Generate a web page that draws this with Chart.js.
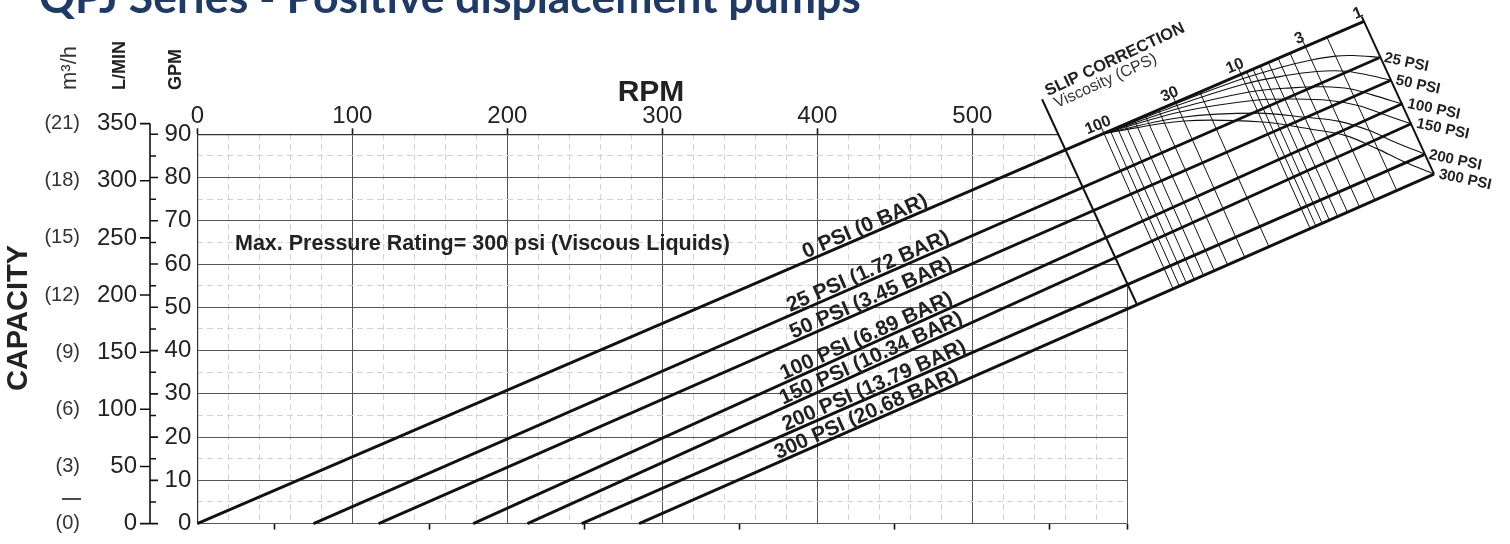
<!DOCTYPE html>
<html>
<head>
<meta charset="utf-8">
<script src="https://cdn.jsdelivr.net/npm/chart.js@4.4.0/dist/chart.umd.min.js"></script>
<style>
  html, body { margin: 0; padding: 0; background: #fff; }
  #wrap { width: 1510px; height: 544px; }
</style>
</head>
<body>
<div id="wrap"><canvas id="pump" width="1510" height="544"></canvas></div>
<script>
// axis values
const rpmLabels = [0, 100, 200, 300, 400, 500];
const rpmUnderTicks = [50, 150, 250, 350, 450, 550, 600];
const lminTicks = [0, 50, 100, 150, 200, 250, 300, 350];
const m3hTicks = [0, 3, 6, 9, 12, 15, 18, 21];
const LPM_PER_GPM = 3.785;

// pressure lines: zero flow at lineStartRpm, run up to the right edge of the slip chart
const psiLabels = ['0 PSI (0 BAR)', '25 PSI (1.72 BAR)', '50 PSI (3.45 BAR)', '100 PSI (6.89 BAR)',
                   '150 PSI (10.34 BAR)', '200 PSI (13.79 BAR)', '300 PSI (20.68 BAR)'];
const psiShort = ['', '25 PSI', '50 PSI', '100 PSI', '150 PSI', '200 PSI', '300 PSI'];
const lineStartRpm = [0, 75, 117, 178, 213, 248, 285];
const lineEndRpm = [752.7, 762.6, 770.1, 777.7, 783.5, 791.5, 797.9];
const lineEndGpm = [116.1, 107.7, 102.5, 97.1, 92.5, 85.3, 80.8];

// slip correction frame, in rpm / gpm units
const frameLeft = [[545.0, 98.1], [606.3, 50.6]];
const visTop = { 100: [585.0, 90.2], 10: [673.4, 103.9], 1: [752.7, 116.1] };
const visBottom = { 100: [629.5, 54.3], 10: [718.0, 68.2], 1: [797.9, 80.8] };
const visLines = [100, 90, 80, 70, 60, 50, 40, 30, 20, 10, 9, 8, 7, 6, 5, 4, 3, 2];
const visLabeled = [100, 30, 10, 3, 1];

// slip curves: share of full slip at each viscosity, one row per pressure (25..300 psi)
const curveVis = [100, 30, 10, 5, 3, 2, 1.5, 1];
const slipShare = [
  [0, 0.03, 0.12, 0.24, 0.37, 0.52, 0.69, 1],
  [0, 0.05, 0.16, 0.29, 0.42, 0.57, 0.73, 1],
  [0, 0.07, 0.21, 0.35, 0.48, 0.62, 0.77, 1],
  [0, 0.09, 0.25, 0.39, 0.52, 0.66, 0.80, 1],
  [0, 0.11, 0.29, 0.44, 0.56, 0.70, 0.83, 1],
  [0, 0.12, 0.31, 0.46, 0.58, 0.73, 0.85, 1]
];

Chart.defaults.font.family = '"Liberation Sans", Arial, sans-serif';
Chart.defaults.color = '#222';

// position on a viscosity line (log scale, one decade per segment)
function visPoint(v, ends) {
  const lv = Math.log10(v);
  const a = lv >= 1 ? ends[100] : ends[10];
  const b = lv >= 1 ? ends[10] : ends[1];
  const f = lv >= 1 ? 2 - lv : 1 - lv;
  return [a[0] + (b[0] - a[0]) * f, a[1] + (b[1] - a[1]) * f];
}

function intersect(p1, p2, p3, p4) {
  const d = (p1[0] - p2[0]) * (p3[1] - p4[1]) - (p1[1] - p2[1]) * (p3[0] - p4[0]);
  const t = ((p1[0] - p3[0]) * (p3[1] - p4[1]) - (p1[1] - p3[1]) * (p3[0] - p4[0])) / d;
  return [p1[0] + t * (p2[0] - p1[0]), p1[1] + t * (p2[1] - p1[1])];
}

const pt = p => ({ x: p[0], y: p[1] });

function seg(points, width, extra) {
  return Object.assign({
    data: points.map(pt), showLine: true, borderColor: '#111', borderWidth: width,
    pointRadius: 0, clip: false, tension: 0, xAxisID: 'x', yAxisID: 'y'
  }, extra || {});
}

const datasets = [];

// pressure lines
lineStartRpm.forEach((s, i) => {
  datasets.push(seg([[s, 0], [lineEndRpm[i], lineEndGpm[i]]], 2.8));
});

// frame edges
datasets.push(seg(frameLeft, 2));
{
  const t = visTop[1], b = visBottom[1];
  datasets.push(seg([[t[0] + (t[0] - b[0]) * 0.03, t[1] + (t[1] - b[1]) * 0.03], b], 2));
}

// viscosity lines
visLines.forEach(v => {
  let t = visPoint(v, visTop);
  const b = visPoint(v, visBottom);
  if (visLabeled.includes(v)) t = [t[0] + (t[0] - b[0]) * 0.05, t[1] + (t[1] - b[1]) * 0.05];
  datasets.push(seg([t, b], 1));
});

// slip curves
slipShare.forEach((row, k) => {
  const i = k + 1;
  const a = [lineStartRpm[i], 0], e = [lineEndRpm[i], lineEndGpm[i]];
  const pts = curveVis.map((v, j) => {
    const t = visPoint(v, visTop);
    const c = intersect(a, e, t, visPoint(v, visBottom));
    return [t[0] + (c[0] - t[0]) * row[j], t[1] + (c[1] - t[1]) * row[j]];
  });
  datasets.push(seg(pts, 1.1, { tension: 0.35 }));
});

const px = (chart, p) => [chart.scales.x.getPixelForValue(p[0]), chart.scales.y.getPixelForValue(p[1])];

// blank out the grid behind the slip chart
const gridMask = {
  id: 'gridMask',
  beforeDatasetsDraw(chart) {
    const a = frameLeft[0], b = frameLeft[1];
    const up = [a[0] + (a[0] - b[0]) * 0.4, a[1] + (a[1] - b[1]) * 0.4];
    const down = [b[0] + (b[0] - a[0]) * 0.06, b[1] + (b[1] - a[1]) * 0.06];
    const poly = [up, down, [720, down[1]], [720, up[1]]].map(p => px(chart, p));
    const ctx = chart.ctx;
    ctx.save();
    ctx.fillStyle = '#fff';
    ctx.beginPath();
    poly.forEach((p, i) => i ? ctx.lineTo(p[0], p[1]) : ctx.moveTo(p[0], p[1]));
    ctx.closePath();
    ctx.fill();
    ctx.restore();
  }
};

function rotText(ctx, text, x, y, ang, font, align, base, color) {
  ctx.save();
  ctx.translate(x, y);
  ctx.rotate(ang);
  ctx.font = font;
  ctx.textAlign = align;
  ctx.textBaseline = base;
  ctx.fillStyle = color || '#222';
  ctx.fillText(text, 0, 0);
  ctx.restore();
}

const annotations = {
  id: 'annotations',
  afterDatasetsDraw(chart) {
    const ctx = chart.ctx;
    const ys = chart.scales.y;

    // title
    const title = 'QPJ Series - Positive displacement pumps';
    ctx.save();
    ctx.font = 'bold 100px Lato';
    const size = 100 * 821 / ctx.measureText(title).width;
    ctx.font = 'bold ' + size.toFixed(1) + 'px Lato';
    ctx.fillStyle = '#1e3a69';
    ctx.textBaseline = 'alphabetic';
    ctx.fillText(title, 39, 13);
    ctx.restore();

    // RPM title
    rotText(ctx, 'RPM', 651, 101, 0, 'bold 30px "Liberation Sans", Arial', 'center', 'alphabetic');

    // left axis: L/MIN ticks on the left, GPM ticks on the right
    const axX = 150;
    ctx.save();
    ctx.strokeStyle = '#111';
    ctx.lineWidth = 1.6;
    ctx.beginPath();
    ctx.moveTo(axX, ys.getPixelForValue(lminTicks[lminTicks.length - 1] / LPM_PER_GPM));
    ctx.lineTo(axX, ys.getPixelForValue(0));
    lminTicks.forEach(l => {
      const y = ys.getPixelForValue(l / LPM_PER_GPM);
      ctx.moveTo(axX - 10, y);
      ctx.lineTo(axX, y);
    });
    for (let g = 0; g <= 90; g += 5) {
      const y = ys.getPixelForValue(g);
      ctx.moveTo(axX, y);
      ctx.lineTo(axX + (g % 10 ? 6 : 8), y);
    }
    ctx.moveTo(62, 499);
    ctx.lineTo(81, 499);
    ctx.stroke();
    ctx.restore();

    lminTicks.forEach((l, i) => {
      const y = ys.getPixelForValue(l / LPM_PER_GPM);
      rotText(ctx, String(l), 137, y, 0, '24px "Liberation Sans", Arial', 'right', 'middle', '#222');
      rotText(ctx, '(' + m3hTicks[i] + ')', 80, y, 0, '20px "Liberation Sans", Arial', 'right', 'middle', '#333');
    });

    // vertical axis titles
    rotText(ctx, 'CAPACITY', 19, 318, -Math.PI / 2, 'bold 29px "Liberation Sans", Arial', 'center', 'middle');
    rotText(ctx, 'm³/h', 70, 90, -Math.PI / 2, '22px "Liberation Sans", Arial', 'left', 'middle', '#333');
    rotText(ctx, 'L/MIN', 120, 90, -Math.PI / 2, 'bold 18px "Liberation Sans", Arial', 'left', 'middle');
    rotText(ctx, 'GPM', 176, 90, -Math.PI / 2, 'bold 18px "Liberation Sans", Arial', 'left', 'middle');

    // note
    rotText(ctx, 'Max. Pressure Rating= 300 psi (Viscous Liquids)', 235, 250, 0,
            'bold 21.5px "Liberation Sans", Arial', 'left', 'alphabetic');

    // pressure line names, laid along each line
    const labelRpm = [433, 435, 437, 434, 437, 439, 434];
    lineStartRpm.forEach((s, i) => {
      const a = px(chart, [s, 0]), b = px(chart, [lineEndRpm[i], lineEndGpm[i]]);
      const ang = Math.atan2(b[1] - a[1], b[0] - a[0]);
      const r = labelRpm[i];
      const g = lineEndGpm[i] * (r - s) / (lineEndRpm[i] - s);
      const c = px(chart, [r, g]);
      const off = 3;
      rotText(ctx, psiLabels[i], c[0] + Math.sin(ang) * off, c[1] - Math.cos(ang) * off, ang,
              'bold 21px "Liberation Sans", Arial', 'center', 'alphabetic');
    });

    // pressure names at the right edge
    lineStartRpm.forEach((s, i) => {
      if (!psiShort[i]) return;
      const e = px(chart, [lineEndRpm[i], lineEndGpm[i]]);
      rotText(ctx, psiShort[i], e[0] + 5, e[1], 0.21, 'bold 15px "Liberation Sans", Arial', 'left', 'middle');
    });

    // viscosity scale labels
    visLabeled.forEach(v => {
      const t = px(chart, visPoint(v, visTop));
      rotText(ctx, String(v), t[0] - 6, t[1] - 8, -0.39, 'bold 16px "Liberation Sans", Arial', 'center', 'middle');
    });

    const lt = px(chart, frameLeft[0]);
    rotText(ctx, 'SLIP CORRECTION', lt[0] + 6, lt[1] - 3, -0.44, 'bold 16.5px "Liberation Sans", Arial', 'left', 'alphabetic');
    rotText(ctx, 'Viscosity (CPS)', lt[0] + 15, lt[1] + 9, -0.43, '16px "Liberation Sans", Arial', 'left', 'alphabetic', '#333');
  }
};

// fixed ranges set after the data limits, so lines reaching into the slip chart are not cut short
const fixRange = (lo, hi) => s => { s.min = lo; s.max = hi; };

new Chart(document.getElementById('pump'), {
  type: 'scatter',
  data: { datasets },
  options: {
    responsive: false,
    animation: false,
    layout: { padding: { left: 147.3, right: 382.7, top: 100.3, bottom: 11.3 } },
    plugins: { legend: { display: false }, tooltip: { enabled: false } },
    scales: {
      x: {
        type: 'linear', position: 'top',
        afterDataLimits: fixRange(0, 600),
        afterBuildTicks: s => { s.ticks = rpmLabels.concat([600]).map(v => ({ value: v })); },
        ticks: { font: { size: 24 }, color: '#222', padding: -2, autoSkip: false, maxRotation: 0,
                 callback: v => rpmLabels.includes(v) ? String(v) : '' },
        grid: { color: '#555', lineWidth: 1, tickLength: 6, tickColor: '#111', tickWidth: 1.6 },
        border: { color: '#333', width: 1.2 },
        afterFit: s => { s.height = 34; }
      },
      xMinor: {
        type: 'linear', position: 'top', min: 0, max: 600,
        ticks: { display: false, stepSize: 20 },
        grid: { color: c => c.tick.value % 100 ? '#d2d2d2' : 'rgba(0,0,0,0)', drawTicks: false, lineWidth: 1 },
        border: { display: false, dash: [6, 4] },
        afterFit: s => { s.height = 0; }
      },
      xUnder: {
        type: 'linear', position: 'bottom', min: 0, max: 600,
        afterBuildTicks: s => { s.ticks = rpmUnderTicks.map(v => ({ value: v })); },
        ticks: { display: false },
        grid: { drawOnChartArea: false, tickLength: 6, tickColor: '#111', tickWidth: 1.6 },
        border: { display: false },
        afterFit: s => { s.height = 6; }
      },
      y: {
        type: 'linear', position: 'left',
        afterDataLimits: fixRange(0, 90),
        ticks: { stepSize: 10, font: { size: 24 }, color: '#222', padding: 6, autoSkip: false },
        grid: { color: '#555', lineWidth: 1, drawTicks: false },
        border: { color: '#333', width: 1.2 },
        afterFit: s => { s.width = 50; }
      },
      yMinor: {
        type: 'linear', position: 'left', min: 0, max: 90,
        ticks: { display: false, stepSize: 5 },
        grid: { color: c => c.tick.value % 10 ? '#d2d2d2' : 'rgba(0,0,0,0)', drawTicks: false, lineWidth: 1 },
        border: { display: false, dash: [6, 4] },
        afterFit: s => { s.width = 0; }
      }
    }
  },
  plugins: [gridMask, annotations]
});
</script>
</body>
</html>
